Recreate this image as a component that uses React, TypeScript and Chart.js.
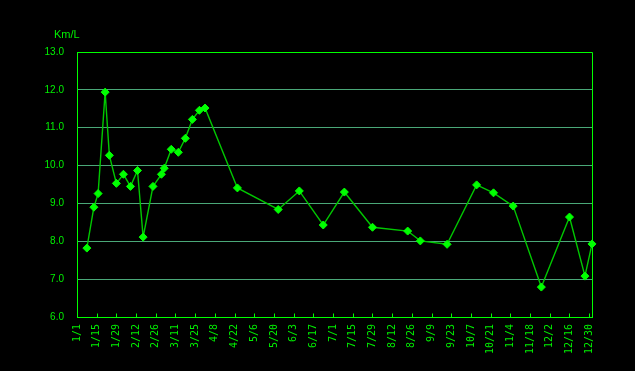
import React, { useEffect, useRef } from "react";
import { Chart, registerables } from "chart.js";

Chart.register(...registerables);

// Fuel economy records (date, Km/L)
const recordDates = [
  "2024-01-08", "2024-01-13", "2024-01-16", "2024-01-21", "2024-01-24", "2024-01-29",
  "2024-02-03", "2024-02-08", "2024-02-13", "2024-02-17", "2024-02-24", "2024-03-01",
  "2024-03-03", "2024-03-08", "2024-03-13", "2024-03-18", "2024-03-23", "2024-03-28",
  "2024-04-01", "2024-04-24", "2024-05-23", "2024-06-07", "2024-06-24", "2024-07-09",
  "2024-07-29", "2024-08-23", "2024-09-01", "2024-09-20", "2024-10-11", "2024-10-23",
  "2024-11-06", "2024-11-26", "2024-12-16", "2024-12-27", "2025-01-01",
];
const kmPerLiter = [
  7.82, 8.9, 9.26, 11.94, 10.27, 9.53,
  9.77, 9.45, 9.87, 8.11, 9.45, 9.77,
  9.93, 10.43, 10.35, 10.72, 11.22, 11.46,
  11.52, 9.41, 8.84, 9.33, 8.43, 9.3,
  8.37, 8.27, 8.01, 7.92, 9.49, 9.28,
  8.93, 6.79, 8.64, 7.08, 7.93,
];
const tickDates = [
  "2024-01-01", "2024-01-15", "2024-01-29", "2024-02-12", "2024-02-26", "2024-03-11",
  "2024-03-25", "2024-04-08", "2024-04-22", "2024-05-06", "2024-05-20", "2024-06-03",
  "2024-06-17", "2024-07-01", "2024-07-15", "2024-07-29", "2024-08-12", "2024-08-26",
  "2024-09-09", "2024-09-23", "2024-10-07", "2024-10-21", "2024-11-04", "2024-11-18",
  "2024-12-02", "2024-12-16", "2024-12-30",
];
const axisStart = "2024-01-01";
const axisEnd = "2025-01-01";
const yMin = 6;
const yMax = 13;
const yStep = 1;
const yUnit = "Km/L";

const BRIGHT = "#00ff00";
const TEXT = "#00f000";
const GRID = "#4aa878";
const LINE = "#00c800";

const toUTC = (s: string) => {
  const [y, m, d] = s.split("-").map(Number);
  return Date.UTC(y, m - 1, d);
};
const dayOf = (s: string) => Math.round((toUTC(s) - toUTC(axisStart)) / 86400000);
const labelOfDay = (v: number) => {
  const dt = new Date(toUTC(axisStart) + v * 86400000);
  return `${dt.getUTCMonth() + 1}/${dt.getUTCDate()}`;
};

export default function App() {
  const ref = useRef<HTMLCanvasElement | null>(null);

  useEffect(() => {
    document.body.style.margin = "0";
    document.body.style.background = "#000";
    if (!ref.current) return;
    const tickDays = tickDates.map(dayOf);
    const points = recordDates.map((d, i) => ({ x: dayOf(d), y: kmPerLiter[i] }));

    const framePlugin = {
      id: "frame",
      afterDraw(chart: any) {
        const { ctx, chartArea } = chart;
        const xs = chart.scales.x;
        ctx.save();
        ctx.strokeStyle = BRIGHT;
        ctx.lineWidth = 1;
        ctx.beginPath();
        ctx.rect(
          Math.round(chartArea.left) + 0.5,
          Math.round(chartArea.top) + 0.5,
          Math.round(chartArea.right) - Math.round(chartArea.left),
          Math.round(chartArea.bottom) - Math.round(chartArea.top)
        );
        ctx.stroke();
        ctx.beginPath();
        const b = Math.round(chartArea.bottom) + 0.5;
        tickDays.forEach((v) => {
          const px = Math.round(xs.getPixelForValue(v)) + 0.5;
          ctx.moveTo(px, b);
          ctx.lineTo(px, b - 4);
        });
        ctx.stroke();
        ctx.fillStyle = TEXT;
        ctx.font = "11px 'Liberation Sans', Arial, sans-serif";
        ctx.textAlign = "left";
        ctx.textBaseline = "alphabetic";
        ctx.fillText(yUnit, chartArea.left - 23, chartArea.top - 14);
        ctx.restore();
      },
    };

    const chart = new Chart(ref.current, {
      type: "line",
      data: {
        datasets: [
          {
            data: points,
            borderColor: LINE,
            borderWidth: 1.4,
            pointStyle: "rectRot",
            pointRadius: 4,
            pointBackgroundColor: BRIGHT,
            pointBorderColor: BRIGHT,
            pointBorderWidth: 1,
            tension: 0,
            clip: false as any,
          },
        ],
      },
      options: {
        animation: false,
        responsive: false,
        layout: { padding: { top: 52, right: 43, left: 0, bottom: 0 } },
        plugins: {
          legend: { display: false },
          tooltip: { enabled: false },
          title: { display: false },
        },
        scales: {
          x: {
            type: "linear",
            min: dayOf(axisStart),
            max: dayOf(axisEnd),
            afterBuildTicks: (scale: any) => {
              scale.ticks = tickDays.map((v) => ({ value: v }));
            },
            afterFit: (scale: any) => {
              scale.height = 54;
            },
            grid: { display: false, drawTicks: false },
            border: { display: true, color: BRIGHT, width: 1 },
            ticks: {
              autoSkip: false,
              minRotation: 90,
              maxRotation: 90,
              padding: 7,
              color: TEXT,
              font: { family: "'DejaVu Sans Mono', monospace", size: 10 },
              callback: (v: any) => labelOfDay(Number(v)),
            },
          },
          y: {
            min: yMin,
            max: yMax,
            afterFit: (scale: any) => {
              scale.width = 77;
            },
            grid: { color: GRID, lineWidth: 1, drawTicks: false },
            border: { display: true, color: BRIGHT, width: 1 },
            ticks: {
              stepSize: yStep,
              padding: 13,
              color: TEXT,
              font: { family: "'Liberation Sans', Arial, sans-serif", size: 10 },
              callback: (v: any) => Number(v).toFixed(1),
            },
          },
        },
      },
      plugins: [framePlugin],
    });
    return () => chart.destroy();
  }, []);

  return (
    <div style={{ width: 635, height: 371, background: "#000" }}>
      <canvas ref={ref} width={635} height={371} style={{ display: "block" }} />
    </div>
  );
}
